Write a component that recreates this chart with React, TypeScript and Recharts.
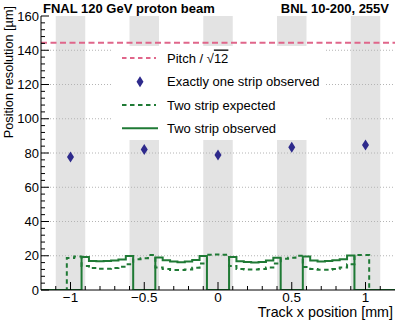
import React from "react";
import { ComposedChart, Line, Scatter, XAxis, YAxis, ReferenceArea, ReferenceLine } from "recharts";

// histogram bins (centres, mm) and two-strip resolution (um)
const binCenters = [
  -1.2, -1.15, -1.1, -1.05, -1.0, -0.95, -0.9, -0.85, -0.8, -0.75, -0.7, -0.65, -0.6,
  -0.55, -0.5, -0.45, -0.4, -0.35, -0.3, -0.25, -0.2, -0.15, -0.1, -0.05, 0, 0.05,
  0.1, 0.15, 0.2, 0.25, 0.3, 0.35, 0.4, 0.45, 0.5, 0.55, 0.6, 0.65, 0.7, 0.75, 0.8,
  0.85, 0.9, 0.95, 1.0, 1.05, 1.1, 1.15, 1.2,
];
const expectedRes = [
  0, 0, 0, 0, 18.7, 19.6, 14.0, 12.8, 12.4, 12.4, 12.8, 13.6, 15.0,
  18.0, 18.5, 20.4, 13.2, 12.2, 11.7, 11.7, 12.0, 13.0, 15.5, 20.6, 20.8, 20.6,
  14.0, 12.3, 12.0, 12.0, 12.3, 13.2, 15.5, 18.3, 18.8, 20.0, 13.5, 12.3, 11.8, 11.8, 12.2,
  13.2, 15.0, 20.4, 20.4, 0, 0, 0, 0,
];
const observedRes = [
  0, 0, 0, 0, 0, 0, 19.3, 17.0, 16.8, 16.9, 17.2, 17.8, 19.8,
  0, 0, 0, 19.0, 17.3, 16.6, 16.2, 16.6, 17.5, 19.8, 0, 0, 0,
  19.3, 16.8, 16.3, 16.0, 16.4, 17.2, 18.8, 0, 0, 0, 19.5, 17.2, 16.7, 16.9, 17.3,
  17.9, 20.2, 0, 0, 0, 0, 0, 0,
];

// exactly one strip observed
const stripPositions = [-1, -0.5, 0, 0.5, 1];
const oneStripRes = [77.7, 82.0, 78.8, 83.3, 84.7];
const pitchOverSqrt12 = 144.34;

const xMajorTicks = [-1, -0.5, 0, 0.5, 1];
const xMinorTicks = [-1.1, -0.9, -0.8, -0.7, -0.6, -0.4, -0.3, -0.2, -0.1, 0.1, 0.2, 0.3, 0.4, 0.6, 0.7, 0.8, 0.9, 1.1];
const yMajorTicks = [0, 20, 40, 60, 80, 100, 120, 140, 160];
const yMinorTicks = [
  4, 8, 12, 16, 24, 28, 32, 36, 44, 48, 52, 56, 64, 68, 72, 76, 84, 88, 92, 96,
  104, 108, 112, 116, 124, 128, 132, 136, 144, 148, 152, 156,
];
const gridValues = [20, 40, 60, 80, 100, 120, 140];

const W = 415;
const H = 322;
const LEFT = 41;
const RIGHT = 395;
const TOP = 16;
const BOTTOM = 290;

const FONT = "'Liberation Sans', Arial, Helvetica, sans-serif";
const GREEN = "#1f7a35";
const PINK = "#e0668a";
const NAVY = "#2e2a8c";
const BAND = "#e3e3e3";

const xTicks = [...xMajorTicks, ...xMinorTicks].sort((a, b) => a - b);
const yTicks = [...yMajorTicks, ...yMinorTicks].sort((a, b) => a - b);
const isMajor = (v: number, majors: number[]) => majors.some((m) => Math.abs(m - v) < 1e-6);
const fmt = (v: number) => (v < 0 ? "\u2212" + Math.abs(v) : String(v));

const lineRows = binCenters.map((x, i) => ({ x, expected: expectedRes[i], observed: observedRes[i] }));
const oneStripRows = stripPositions.map((x, i) => ({ x, y: oneStripRes[i] }));

function BottomTick(props: any) {
  const x = props.payload.coordinate;
  const major = isMajor(props.payload.value, xMajorTicks);
  return (
    <g>
      <line x1={x} x2={x} y1={BOTTOM} y2={BOTTOM - (major ? 8 : 4)} stroke="#000" />
      {major && (
        <text x={x} y={BOTTOM + 12} textAnchor="middle" fontSize={13.5} fontFamily={FONT} fill="#000">
          {fmt(props.payload.value)}
        </text>
      )}
    </g>
  );
}

function TopTick(props: any) {
  const x = props.payload.coordinate;
  const major = isMajor(props.payload.value, xMajorTicks);
  return <line x1={x} x2={x} y1={TOP} y2={TOP + (major ? 8 : 4)} stroke="#000" />;
}

function LeftTick(props: any) {
  const y = props.payload.coordinate;
  const major = isMajor(props.payload.value, yMajorTicks);
  return (
    <g>
      <line x1={LEFT} x2={LEFT + (major ? 8 : 4)} y1={y} y2={y} stroke="#000" />
      {major && (
        <text x={LEFT - 2} y={y + 4.6} textAnchor="end" fontSize={13} fontFamily={FONT} fill="#000">
          {props.payload.value}
        </text>
      )}
    </g>
  );
}

function RightTick(props: any) {
  const y = props.payload.coordinate;
  const major = isMajor(props.payload.value, yMajorTicks);
  return <line x1={RIGHT} x2={RIGHT - (major ? 8 : 4)} y1={y} y2={y} stroke="#000" />;
}

function Diamond(props: any) {
  const { cx, cy } = props;
  return <polygon points={`${cx},${cy - 5.5} ${cx + 3.5},${cy} ${cx},${cy + 5.5} ${cx - 3.5},${cy}`} fill={NAVY} />;
}

export default function App() {
  return (
    <div style={{ position: "absolute", left: 0, top: 0, width: W, height: H, background: "#fff", fontFamily: FONT }}>
      <ComposedChart width={W} height={H} margin={{ top: TOP, right: W - RIGHT, bottom: 0, left: 0 }}>
        {gridValues.map((v) => (
          <ReferenceLine key={"grid" + v} xAxisId="x" yAxisId="y" y={v} stroke="#b4b4b4" strokeDasharray="1 2" />
        ))}
        {stripPositions.map((c) => (
          <ReferenceArea
            key={"band" + c}
            xAxisId="x"
            yAxisId="y"
            x1={c - 0.1}
            x2={c + 0.1}
            y1={0}
            y2={160}
            fill={BAND}
            fillOpacity={1}
            stroke="none"
          />
        ))}
        <XAxis
          xAxisId="x"
          dataKey="x"
          type="number"
          domain={[-1.2, 1.2]}
          ticks={xTicks}
          interval={0}
          height={32}
          axisLine={{ stroke: "#000" }}
          tickLine={false}
          tick={<BottomTick />}
          allowDataOverflow
        />
        <XAxis
          xAxisId="top"
          orientation="top"
          type="number"
          domain={[-1.2, 1.2]}
          ticks={xTicks}
          interval={0}
          height={0}
          axisLine={{ stroke: "#000" }}
          tickLine={false}
          tick={<TopTick />}
        />
        <YAxis
          yAxisId="y"
          type="number"
          domain={[0, 160]}
          ticks={yTicks}
          interval={0}
          width={LEFT}
          axisLine={{ stroke: "#000" }}
          tickLine={false}
          tick={<LeftTick />}
          allowDataOverflow
        />
        <YAxis
          yAxisId="right"
          orientation="right"
          type="number"
          domain={[0, 160]}
          ticks={yTicks}
          interval={0}
          width={0}
          axisLine={{ stroke: "#000" }}
          tickLine={false}
          tick={<RightTick />}
        />
        <ReferenceLine xAxisId="x" yAxisId="y" y={pitchOverSqrt12} stroke={PINK} strokeWidth={2} strokeDasharray="6 3.5" />
        <Line
          xAxisId="x"
          yAxisId="y"
          data={lineRows}
          dataKey="expected"
          type="step"
          stroke={GREEN}
          strokeWidth={2}
          strokeDasharray="4.5 3.5"
          dot={false}
          isAnimationActive={false}
        />
        <Line
          xAxisId="x"
          yAxisId="y"
          data={lineRows}
          dataKey="observed"
          type="step"
          stroke={GREEN}
          strokeWidth={2}
          dot={false}
          isAnimationActive={false}
        />
        <Scatter xAxisId="x" yAxisId="y" data={oneStripRows} dataKey="y" shape={<Diamond />} isAnimationActive={false} />
      </ComposedChart>
      <svg width={W} height={H} style={{ position: "absolute", left: 0, top: 0, pointerEvents: "none" }} fontFamily={FONT}>
        <text x={43} y={12.5} fontSize={13} fontWeight="bold">FNAL 120 GeV proton beam</text>
        <text x={389} y={12.5} fontSize={13} fontWeight="bold" textAnchor="end">BNL 10-200, 255V</text>
        <text x={RIGHT - 2} y={317} fontSize={14.3} textAnchor="end">Track x position [mm]</text>
        <text transform={`translate(12.5, 6) rotate(-90)`} fontSize={12.7} textAnchor="end">Position resolution [{"\u00b5"}m]</text>
        <rect x={113} y={46} width={212} height={94} fill="#fff" />
        <line x1={122} x2={156} y1={58} y2={58} stroke={PINK} strokeWidth={2} strokeDasharray="4.5 3.5" />
        <text x={167} y={62.5} fontSize={13}>
          Pitch / {"\u221a"}<tspan style={{ textDecoration: "overline" }}>12</tspan>
        </text>
        <Diamond cx={140} cy={81.7} />
        <text x={167} y={86} fontSize={13}>Exactly one strip observed</text>
        <line x1={122} x2={156} y1={105} y2={105} stroke={GREEN} strokeWidth={2} strokeDasharray="4.5 3.5" />
        <text x={167} y={109.5} fontSize={13}>Two strip expected</text>
        <line x1={122} x2={158} y1={128.3} y2={128.3} stroke={GREEN} strokeWidth={2} />
        <text x={167} y={133} fontSize={13}>Two strip observed</text>
      </svg>
    </div>
  );
}
